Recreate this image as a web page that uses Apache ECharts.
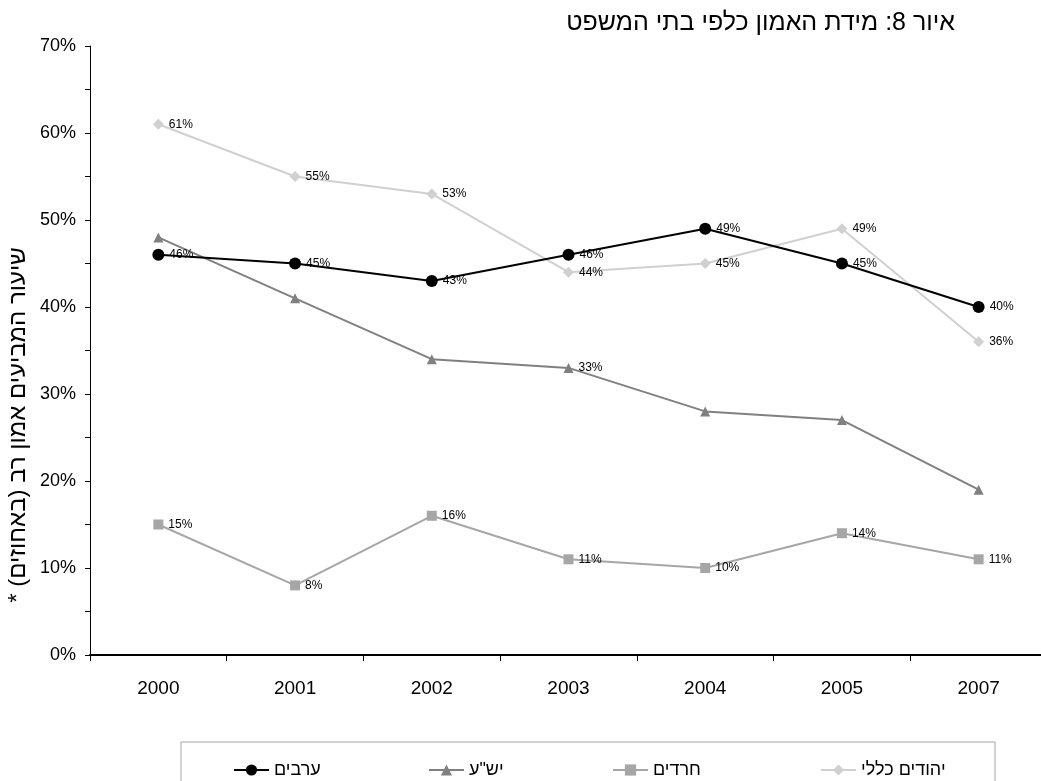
<!DOCTYPE html>
<html>
<head>
<meta charset="utf-8">
<script src="https://cdn.jsdelivr.net/npm/echarts@6/dist/echarts.min.js"></script>
<style>
html,body{margin:0;padding:0;background:#fff;overflow:hidden;}
#chart{width:1047px;height:781px;}
</style>
</head>
<body>
<div id="chart" dir="rtl"></div>
<script>
const years = ['2000','2001','2002','2003','2004','2005','2007'];
const arabs = [46,45,43,46,49,45,40];
const yesha = [48,41,34,33,28,27,19];
const yeshaLabelShown = [false,false,false,true,false,false,false];
const haredim = [15,8,16,11,10,14,11];
const jewsGeneral = [61,55,53,44,45,49,36];
const seriesNames = ['ערבים','יש"ע','חרדים','יהודים כללי'];
const titleText = 'איור 8: מידת האמון כלפי בתי המשפט';
const yAxisTitle = 'שיעור המביעים אמון רב (באחוזים) *';

const FONT = '"Liberation Sans", Arial, sans-serif';
const labelStyle = {show:true, position:'right', distance:5, formatter:'{c}%', color:'#000', fontSize:12, fontFamily:FONT};
const legendLefts = [228, 423, 607, 815];

const chart = echarts.init(document.getElementById('chart'));
chart.setOption({
  animation:false,
  backgroundColor:'#fff',
  title:{text:titleText, right:87, top:6, textStyle:{fontSize:25, fontWeight:'normal', color:'#000', fontFamily:FONT}},
  grid:{left:90, right:0, top:46, bottom:126, containLabel:false},
  legend:seriesNames.map((n,i)=>({
    data:[n], left:legendLefts[i], top:756, itemWidth:35, itemHeight:14, itemGap:0,
    textStyle:{fontSize:18, color:'#000', fontFamily:FONT}
  })),
  graphic:[
    {type:'rect', shape:{x:181, y:742, width:814, height:80}, style:{fill:'none', stroke:'#a6a6a6', lineWidth:1}},
    {type:'text', x:18, y:425, rotation:Math.PI/2, style:{text:yAxisTitle, fontSize:24, fontFamily:FONT, fill:'#000', align:'center', verticalAlign:'middle'}}
  ],
  xAxis:{
    type:'category', data:years, boundaryGap:true,
    axisLine:{lineStyle:{color:'#000', width:2}},
    axisTick:{show:true, length:6, lineStyle:{color:'#000', width:1}},
    axisLabel:{color:'#000', fontSize:19, margin:24, fontFamily:FONT}
  },
  yAxis:{
    type:'value', min:0, max:70, interval:10,
    axisLine:{show:true, lineStyle:{color:'#000', width:1}},
    axisTick:{show:true, length:5, lineStyle:{color:'#000'}},
    minorTick:{show:true, splitNumber:2, length:5, lineStyle:{color:'#000'}},
    splitLine:{show:false},
    axisLabel:{color:'#000', fontSize:18, margin:14, formatter:'{value}%', fontFamily:FONT}
  },
  series:[
    {name:seriesNames[3], type:'line', data:jewsGeneral, symbol:'diamond', symbolSize:11,
      lineStyle:{color:'#d0d0d0', width:2}, itemStyle:{color:'#d0d0d0'}, label:labelStyle, z:2},
    {name:seriesNames[2], type:'line', data:haredim, symbol:'rect', symbolSize:10,
      lineStyle:{color:'#a6a6a6', width:2}, itemStyle:{color:'#a6a6a6'}, label:labelStyle, z:3},
    {name:seriesNames[1], type:'line', symbol:'triangle', symbolSize:10,
      data:yesha.map((v,i)=>({value:v, label:{show:yeshaLabelShown[i]}})),
      lineStyle:{color:'#808080', width:2}, itemStyle:{color:'#808080'}, label:labelStyle, z:4},
    {name:seriesNames[0], type:'line', data:arabs, symbol:'circle', symbolSize:12,
      lineStyle:{color:'#000', width:2}, itemStyle:{color:'#000'}, label:labelStyle, z:5}
  ]
});
</script>
</body>
</html>
